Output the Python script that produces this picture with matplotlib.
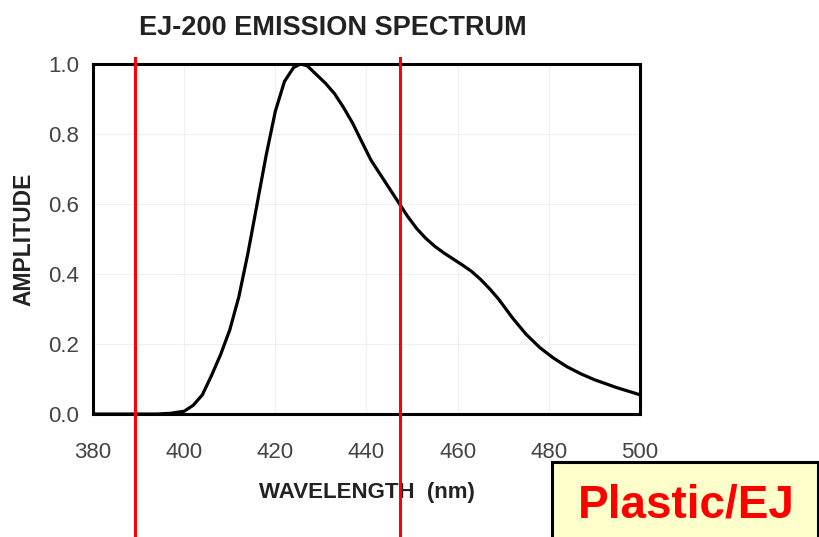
import matplotlib.pyplot as plt
from matplotlib.patches import Rectangle

# EJ-200 emission spectrum
wavelength = [380, 394, 397, 400, 402, 404, 406, 408, 410, 412, 414, 416, 418, 420,
              422, 424, 425.5, 427, 429, 431, 433, 435, 437, 439, 441, 443, 445,
              447, 449, 451, 453, 455, 457, 459, 461, 463, 465, 467, 469, 472,
              475, 478, 481, 484, 487, 490, 495, 500]
amplitude = [0, 0, 0.002, 0.008, 0.025, 0.055, 0.11, 0.17, 0.24, 0.335, 0.46, 0.60,
             0.74, 0.865, 0.95, 0.99, 1.0, 0.995, 0.97, 0.945, 0.915, 0.875, 0.83,
             0.777, 0.725, 0.685, 0.645, 0.605, 0.565, 0.53, 0.502, 0.479, 0.46,
             0.443, 0.426, 0.408, 0.385, 0.358, 0.328, 0.275, 0.228, 0.19, 0.16,
             0.135, 0.115, 0.098, 0.075, 0.055]
marker_lines = [389.2, 447.4]
x_ticks = [380, 400, 420, 440, 460, 480, 500]
y_ticks = [0.0, 0.2, 0.4, 0.6, 0.8, 1.0]

plt.rcParams['font.family'] = ['Liberation Sans', 'DejaVu Sans']

fig = plt.figure(figsize=(8.2, 5.37), dpi=100)
ax = fig.add_axes([0.1134, 0.229, 0.6671, 0.6518])

ax.plot(wavelength, amplitude, color='black', lw=2.3, zorder=3)
for x in marker_lines:
    ax.axvline(x, ymin=-0.36, ymax=1.017, color='red', lw=2.2, clip_on=False, zorder=5)

ax.set_xlim(380, 500)
ax.set_ylim(0, 1.0)
ax.set_xticks(x_ticks)
ax.set_yticks(y_ticks)
ax.set_yticklabels([f"{v:.1f}" for v in y_ticks])
ax.tick_params(length=0, labelsize=16, labelcolor='#444444')
ax.tick_params(axis='x', pad=20)
ax.tick_params(axis='y', pad=10)
ax.grid(True, color='#f0f0f0', lw=0.8)
for s in ax.spines.values():
    s.set_linewidth(2.2)
    s.set_color('black')

ax.set_title("EJ-200 EMISSION SPECTRUM", fontsize=19.5, fontweight='bold',
             color='#222222', pad=21, x=(333 - 93) / 547)
ax.set_xlabel("WAVELENGTH  (nm)", fontsize=16, fontweight='bold',
              color='#222222', labelpad=14)
ax.set_ylabel("AMPLITUDE", fontsize=16.5, fontweight='bold', color='#222222',
              labelpad=9)

box = Rectangle((552 / 820, -0.05), 266 / 820, (537 - 462) / 537 + 0.05,
                transform=fig.transFigure, facecolor='#ffffcc', edgecolor='black',
                lw=2.2, zorder=4)
fig.patches.append(box)
fig.text(686 / 820, 1 - 518 / 537, "Plastic/EJ", color='red', fontsize=33,
         fontweight='bold', ha='center', va='baseline', zorder=6)

fig.savefig("out.png", dpi=100)
